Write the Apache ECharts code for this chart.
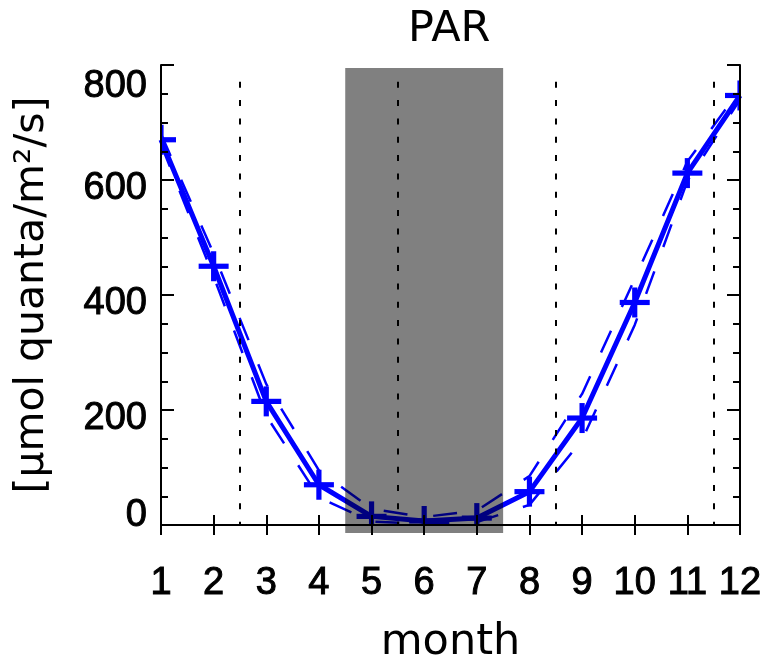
<!DOCTYPE html>
<html><head><meta charset="utf-8">
<script src="https://cdn.jsdelivr.net/npm/echarts@6/dist/echarts.min.js"></script>
<style>html,body{margin:0;padding:0;background:#fff}#c{width:767px;height:663px}</style>
</head><body><div id="c"></div><script>
// ---- data ----
const months = [1, 2, 3, 4, 5, 6, 7, 8, 9, 10, 11, 12];
const parMean  = [670, 450, 215, 70, 15, 7, 12, 58, 186, 387, 612, 747];
const parUpper = [680, 472, 245, 95, 28, 14, 25, 85, 228, 428, 632, 757];
const parLower = [662, 432, 190, 48, 6, 2, 5, 35, 148, 348, 598, 740];
const yTickValues = [0, 200, 400, 600, 800];
const separatorMonths = [2.5, 5.5, 8.5, 11.5];
const shadedMonths = [4.5, 7.5];

const BLUE = '#0000ff';
const NAVY = '#000080';
const pairs = arr => months.map((m, i) => [m, arr[i]]);
const inShade = x => x > shadedMonths[0] && x < shadedMonths[1];

const chart = echarts.init(document.getElementById('c'), null, {renderer: 'canvas'});

const baseFont = {fontFamily: 'Liberation Sans', fontSize: 38, color: '#000',
  textBorderColor: '#000', textBorderWidth: 1};
const axisLine = {show: true, lineStyle: {color: '#000', width: 2}};
const yMin = yTickValues[0], yMax = yTickValues[yTickValues.length - 1];

const option = {
  backgroundColor: '#fff',
  animation: false,
  title: {
    text: 'PAR', left: 403, top: 3,
    textStyle: {fontFamily: 'DejaVu Sans', fontSize: 43, fontWeight: 'normal', color: '#000'}
  },
  grid: {left: 161, right: 27, top: 65, bottom: 138, containLabel: false, outerBoundsMode: 'none'},
  visualMap: {
    show: false, type: 'piecewise', dimension: 0, seriesIndex: [0, 1, 2],
    pieces: [{gt: shadedMonths[0], lt: shadedMonths[1], color: NAVY}],
    outOfRange: {color: BLUE}
  },
  xAxis: [{
    type: 'value', min: months[0], max: months[months.length - 1], interval: 1,
    position: 'bottom', z: 6,
    name: 'month', nameLocation: 'middle', nameGap: 96, nameMoveOverlap: false,
    nameTextStyle: {fontFamily: 'DejaVu Sans', fontSize: 43, color: '#000'},
    axisLine: axisLine,
    axisTick: {show: true, inside: true, length: 10, lineStyle: {color: '#000', width: 2}},
    axisLabel: Object.assign({margin: 40, verticalAlign: 'top', formatter: v => String(v)}, baseFont),
    splitLine: {show: false}
  }, {
    type: 'value', min: months[0], max: months[months.length - 1], interval: 1,
    position: 'top', z: 6,
    axisLine: axisLine,
    axisTick: {show: true, inside: true, length: 10, lineStyle: {color: '#000', width: 2}},
    axisLabel: {show: false},
    splitLine: {show: false}
  }],
  yAxis: [{
    type: 'value', min: yMin, max: yMax, interval: 200,
    position: 'left', z: 6,
    name: '[µmol quanta/m²/s]', nameLocation: 'middle', nameGap: 108, nameMoveOverlap: false,
    nameTextStyle: {fontFamily: 'DejaVu Sans', fontSize: 41, color: '#000'},
    axisLine: axisLine,
    axisTick: {show: true, inside: true, length: 13, lineStyle: {color: '#000', width: 2}},
    minorTick: {show: true, splitNumber: 4, length: 7, lineStyle: {color: '#000', width: 2}},
    axisLabel: Object.assign({
      margin: 14,
      formatter: v => v === yMin ? '{lo|' + v + '}' : (v === yMax ? '{hi|' + v + '}' : '{mid|' + v + '}'),
      rich: {
        lo: Object.assign({padding: [0, 0, 18, 0]}, baseFont),
        hi: Object.assign({padding: [44, 0, 0, 0]}, baseFont),
        mid: Object.assign({padding: [18, 0, 0, 0]}, baseFont)
      }
    }, baseFont),
    splitLine: {show: false}
  }, {
    type: 'value', min: yMin, max: yMax, interval: 200,
    position: 'right', z: 6,
    axisLine: axisLine,
    axisTick: {show: true, inside: true, length: 13, lineStyle: {color: '#000', width: 2}},
    minorTick: {show: true, splitNumber: 4, length: 7, lineStyle: {color: '#000', width: 2}},
    axisLabel: {show: false},
    splitLine: {show: false}
  }],
  series: [
    {
      name: 'upper', type: 'line', data: pairs(parUpper), symbol: 'none', z: 3,
      lineStyle: {width: 2.5, type: [24, 26]}
    },
    {
      name: 'lower', type: 'line', data: pairs(parLower), symbol: 'none', z: 3,
      lineStyle: {width: 2.5, type: [24, 26]}
    },
    {
      name: 'mean', type: 'line', data: pairs(parMean), symbol: 'none', z: 4,
      lineStyle: {width: 5},
      markLine: {
        silent: true, symbol: ['none', 'none'], label: {show: false},
        lineStyle: {color: '#000', width: 2, type: [6, 12.33], dashOffset: 2.7},
        emphasis: {disabled: true},
        data: separatorMonths.map(s => [{coord: [s, 0]}, {coord: [s, 775]}])
      }
    },
    {
      name: 'markers', type: 'custom', data: pairs(parMean), clip: true, z: 5,
      renderItem: (params, api) => {
        const x = api.value(0);
        const c = api.coord([x, api.value(1)]);
        const h = 15, t = 2.6;
        const fill = inShade(x) ? NAVY : BLUE;
        return {
          type: 'group',
          children: [
            {type: 'rect', shape: {x: c[0] - h, y: c[1] - t, width: 2 * h, height: 2 * t}, style: {fill: fill}},
            {type: 'rect', shape: {x: c[0] - t, y: c[1] - h, width: 2 * t, height: 2 * h}, style: {fill: fill}}
          ]
        };
      }
    },
    {
      name: 'shade', type: 'custom', data: [shadedMonths], clip: false, z: 1, silent: true,
      renderItem: (params, api) => {
        const p1 = api.coord([api.value(0), 795]);
        const p2 = api.coord([api.value(1), -14]);
        return {
          type: 'rect',
          shape: {x: p1[0], y: p1[1], width: p2[0] - p1[0], height: p2[1] - p1[1]},
          style: {fill: '#808080'}
        };
      }
    }
  ]
};
chart.setOption(option);
</script></body></html>
